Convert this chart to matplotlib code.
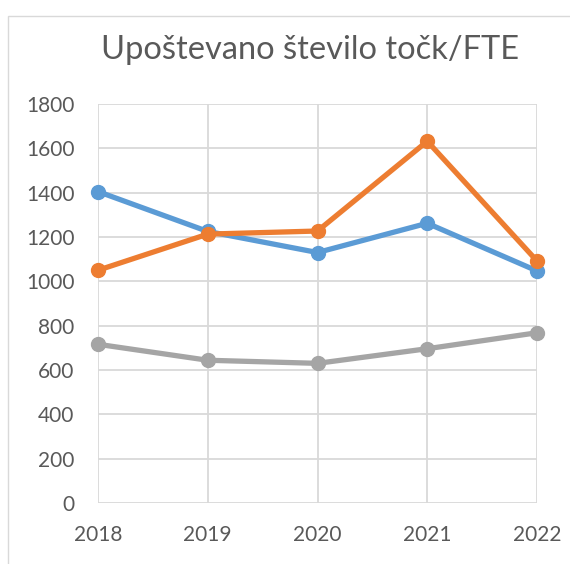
import matplotlib
matplotlib.use("Agg")
import matplotlib.pyplot as plt
from matplotlib.patches import Rectangle

years = [2018, 2019, 2020, 2021, 2022]
series_blue = [1405, 1225, 1130, 1262, 1047]
series_orange = [1050, 1213, 1227, 1632, 1092]
series_gray = [716, 644, 630, 696, 768]
yticks = [0, 200, 400, 600, 800, 1000, 1200, 1400, 1600, 1800]
title = "Upoštevano število točk/FTE"

plt.rcParams['font.family'] = ['Lato', 'DejaVu Sans']

fig = plt.figure(figsize=(5.70, 5.64), dpi=100)
fig.patches.append(Rectangle((8/570, -0.1), 1.2, 1 - 16/564 + 0.1, transform=fig.transFigure,
                             fill=False, edgecolor='#D9D9D9', linewidth=1.0))
ax = fig.add_axes([98/570, 1 - 503/564, (537-98)/570, (503-104)/564])

lw = 3.8
ms = 10
for vals, col, z in [(series_gray, '#A5A5A5', 3), (series_blue, '#5B9BD5', 4), (series_orange, '#ED7D31', 5)]:
    ax.plot(years, vals, color=col, lw=lw, marker='o', ms=ms, solid_capstyle='round',
            solid_joinstyle='round', zorder=z, clip_on=False)

ax.set_xlim(2018, 2022)
ax.set_ylim(0, 1800)
ax.set_xticks(years)
ax.set_xticklabels([str(y) for y in years])
ax.set_yticks(yticks)
ax.grid(True, color='#D9D9D9', lw=1.3)
ax.set_axisbelow(True)
for s in ax.spines.values():
    s.set_visible(False)
ax.tick_params(length=0, labelsize=15, labelcolor='#595959')
ax.tick_params(axis='y', pad=17)
ax.tick_params(axis='x', pad=16)

fig.text(0.5 * (97 + 523) / 570, 1 - 50/564, title, ha='center', va='center',
         fontsize=23.5, color='#595959')

fig.savefig("out.png", dpi=100)
